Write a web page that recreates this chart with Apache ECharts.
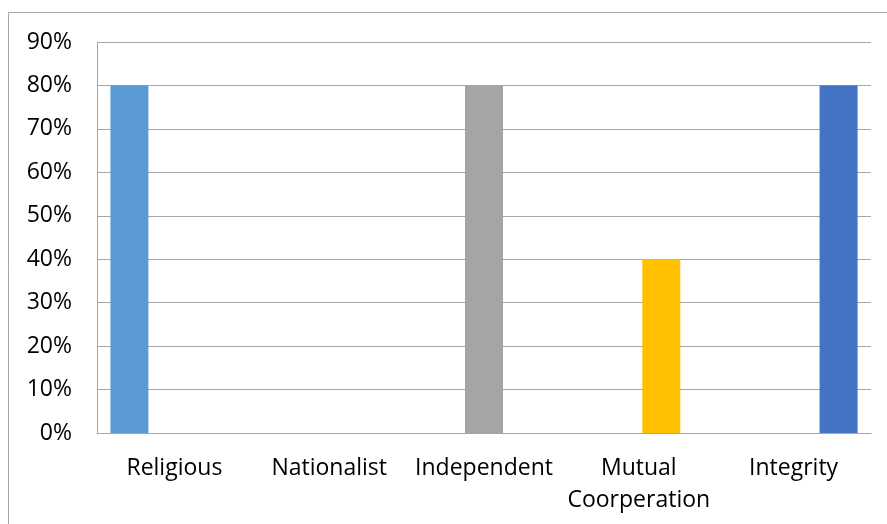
<!DOCTYPE html>
<html>
<head>
<meta charset="utf-8">
<script src="https://cdn.jsdelivr.net/npm/echarts@6/dist/echarts.min.js"></script>
<style>html,body{margin:0;padding:0;background:#fff}#c{width:887px;height:524px}</style>
</head>
<body>
<div id="c"></div>
<script>
const categories = ['Religious', 'Nationalist', 'Independent', 'Mutual\nCoorperation', 'Integrity'];
const seriesNames = ['Religious', 'Nationalist', 'Independent', 'Mutual Coorperation', 'Integrity'];
const values = [80, 0, 80, 40, 80];
const colors = ['#5B9BD5', '#ED7D31', '#A5A5A5', '#FFC000', '#4472C4'];
const yTicks = [0, 10, 20, 30, 40, 50, 60, 70, 80, 90];

const chart = echarts.init(document.getElementById('c'));
const font = 'Open Sans';
const series = seriesNames.map((n, i) => ({
  name: n,
  type: 'bar',
  barWidth: 38,
  barGap: '-40.8%',
  itemStyle: { color: colors[i] },
  data: categories.map((c, j) => (j === i ? values[i] : null))
}));
chart.setOption({
  animation: false,
  graphic: [{
    type: 'rect',
    shape: { x: 8.5, y: 12.5, width: 1000, height: 1000 },
    style: { fill: 'none', stroke: '#A6A6A6', lineWidth: 1 },
    silent: true
  }],
  grid: { left: 97, right: 16, top: 42, bottom: 91 },
  xAxis: {
    type: 'category',
    data: categories,
    axisTick: { show: false },
    axisLine: { lineStyle: { color: '#A6A6A6', width: 1 } },
    axisLabel: { color: '#000', fontSize: 23, fontFamily: font, margin: 19, lineHeight: 32, interval: 0 }
  },
  yAxis: {
    type: 'value',
    min: yTicks[0],
    max: yTicks[yTicks.length - 1],
    interval: 10,
    axisLine: { show: true, lineStyle: { color: '#A6A6A6', width: 1 } },
    axisTick: { show: false },
    splitLine: { lineStyle: { color: '#A6A6A6', width: 1 } },
    axisLabel: { color: '#000', fontSize: 23, fontFamily: font, margin: 25, formatter: v => v + '%' }
  },
  series: series
});
</script>
</body>
</html>
